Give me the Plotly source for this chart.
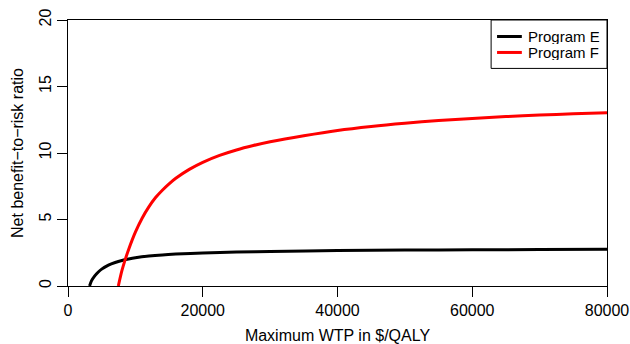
import plotly.graph_objects as go

# Program E
wtp_e = [3200, 3500, 4000, 4500, 5000, 6000, 7000, 8000, 9000, 10000, 12000, 14000,
         16000, 20000, 25000, 30000, 40000, 50000, 60000, 70000, 80000]
ratio_e = [0.0, 0.4, 0.78, 1.05, 1.27, 1.57, 1.77, 1.92, 2.03, 2.12, 2.25, 2.34,
           2.4, 2.48, 2.55, 2.6, 2.66, 2.7, 2.72, 2.74, 2.76]

# Program F
wtp_f = [7470, 8000, 8500, 9000, 10000, 11000, 12000, 13000, 14000, 15000, 16000, 18000,
         20000, 22500, 25000, 27500, 30000, 35000, 40000, 45000, 50000, 55000, 60000,
         65000, 70000, 75000, 80000]
ratio_f = [0.0, 1.15, 2.0, 2.75, 4.05, 5.1, 5.95, 6.65, 7.2, 7.68, 8.1, 8.77,
           9.3, 9.82, 10.23, 10.56, 10.84, 11.3, 11.7, 12.0, 12.24, 12.44, 12.6,
           12.74, 12.85, 12.95, 13.03]

x_ticks = [0, 20000, 40000, 60000, 80000]
y_ticks = [0, 5, 10, 15, 20]
series_names = ["Program E", "Program F"]
series_colors = ["#000000", "#ff0000"]

FONT = "Liberation Sans, Arial, Helvetica, sans-serif"

fig = go.Figure()
fig.add_trace(go.Scatter(x=wtp_e, y=ratio_e, mode="lines", name=series_names[0],
                         line=dict(color=series_colors[0], width=3, shape="spline", smoothing=0.8),
                         showlegend=False))
fig.add_trace(go.Scatter(x=wtp_f, y=ratio_f, mode="lines", name=series_names[1],
                         line=dict(color=series_colors[1], width=3, shape="spline", smoothing=0.8),
                         showlegend=False))

# custom legend (R style box)
lx0, lx1 = 0.785, 1.0
ly0, ly1 = 0.818, 1.0
fig.add_shape(type="rect", xref="paper", yref="paper", x0=lx0, x1=lx1, y0=ly0, y1=ly1,
              line=dict(color="black", width=1), fillcolor="white", layer="above")
rows = [0.938, 0.878]
for name, col, yy in zip(series_names, series_colors, rows):
    fig.add_shape(type="line", xref="paper", yref="paper", x0=0.796, x1=0.842, y0=yy, y1=yy,
                  line=dict(color=col, width=3), layer="above")
    fig.add_annotation(xref="paper", yref="paper", x=0.850, y=yy, text=name, showarrow=False,
                       xanchor="left", yanchor="middle", height=15,
                       font=dict(family=FONT, size=15, color="black"))

fig.update_layout(
    width=630, height=344,
    margin=dict(l=68, r=23, t=20, b=58),
    paper_bgcolor="white", plot_bgcolor="white",
    font=dict(family=FONT, size=16, color="black"),
    xaxis=dict(range=[0, 80000], tickvals=x_ticks, ticktext=[str(v) for v in x_ticks],
               automargin=False,
               showgrid=False, zeroline=False, showline=True, mirror=True,
               linecolor="black", linewidth=1, ticks="outside", ticklen=10, tickwidth=1,
               tickcolor="black",
               title=dict(text="Maximum WTP in $/QALY", standoff=13,
                          font=dict(family=FONT, size=16))),
    yaxis=dict(range=[0, 20], tickvals=y_ticks, ticktext=[str(v) for v in y_ticks],
               automargin=False,
               showgrid=False, zeroline=False, showline=True, mirror=True,
               linecolor="black", linewidth=1, ticks="outside", ticklen=10, tickwidth=1,
               tickcolor="black", tickangle=-90,
               title=dict(text="Net benefit\u2212to\u2212risk ratio", standoff=8,
                          font=dict(family=FONT, size=16))),
)

fig.write_html("out.html", config={"displayModeBar": False},
               post_script="document.body.style.margin='0';document.body.style.overflow='hidden';")
